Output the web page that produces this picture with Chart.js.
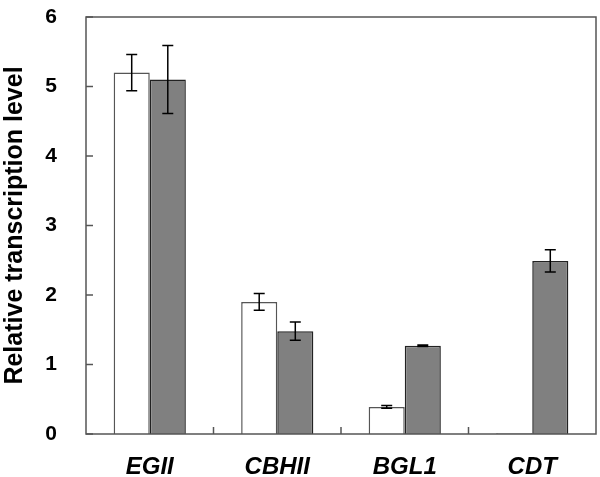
<!DOCTYPE html>
<html>
<head>
<meta charset="utf-8">
<script src="https://cdn.jsdelivr.net/npm/chart.js@4.4.0/dist/chart.umd.min.js"></script>
<style>
  html, body { margin: 0; padding: 0; background: #fff; }
  #wrap { width: 600px; height: 477px; }
</style>
</head>
<body>
<div id="wrap"><canvas id="barChart"></canvas></div>
<script>
// data
var genes = ["EGII", "CBHII", "BGL1", "CDT"];
var whiteVals = [5.2, 1.9, 0.39, 0.01];
var whiteErr  = [0.26, 0.12, 0.02, 0];
var grayVals  = [5.1, 1.48, 1.27, 2.49];
var grayErr   = [0.49, 0.13, 0.01, 0.16];
var yTicks = [0, 1, 2, 3, 4, 5, 6];

// error bars + frame + inward tick marks
var decorPlugin = {
  id: 'decor',
  afterDatasetsDraw: function(chart) {
    var ctx = chart.ctx, y = chart.scales.y, x = chart.scales.x, a = chart.chartArea;
    ctx.save();
    ctx.strokeStyle = '#000';
    ctx.lineWidth = 1.5;
    chart.data.datasets.forEach(function(ds, i) {
      var meta = chart.getDatasetMeta(i);
      meta.data.forEach(function(bar, j) {
        var e = ds.errors[j];
        if (!e) return;
        var top = y.getPixelForValue(ds.data[j] + e);
        var bot = y.getPixelForValue(ds.data[j] - e);
        ctx.beginPath();
        ctx.moveTo(bar.x, top); ctx.lineTo(bar.x, bot);
        ctx.moveTo(bar.x - 5.5, top); ctx.lineTo(bar.x + 5.5, top);
        ctx.moveTo(bar.x - 5.5, bot); ctx.lineTo(bar.x + 5.5, bot);
        ctx.stroke();
      });
    });
    // frame
    ctx.strokeStyle = '#555';
    ctx.lineWidth = 1.5;
    ctx.strokeRect(a.left, a.top, a.right - a.left, a.bottom - a.top);
    // y ticks pointing in
    yTicks.forEach(function(v) {
      var py = y.getPixelForValue(v);
      ctx.beginPath(); ctx.moveTo(a.left, py); ctx.lineTo(a.left + 7, py); ctx.stroke();
    });
    // category boundary ticks pointing up
    for (var k = 1; k < genes.length; k++) {
      var px = (x.getPixelForValue(k - 1) + x.getPixelForValue(k)) / 2;
      ctx.beginPath(); ctx.moveTo(px, a.bottom); ctx.lineTo(px, a.bottom - 7); ctx.stroke();
    }
    ctx.restore();
  }
};

var ctxB = document.getElementById("barChart").getContext('2d');
var myBarChart = new Chart(ctxB, {
  type: 'bar',
  data: {
    labels: genes,
    datasets: [
      {
        data: whiteVals,
        errors: whiteErr,
        backgroundColor: '#ffffff',
        borderColor: '#555555',
        borderWidth: 1.5,
        categoryPercentage: 0.566,
        barPercentage: 1
      },
      {
        data: grayVals,
        errors: grayErr,
        backgroundColor: '#808080',
        borderColor: '#222222',
        borderWidth: 1.5,
        categoryPercentage: 0.566,
        barPercentage: 1
      }
    ]
  },
  options: {
    responsive: true,
    maintainAspectRatio: false,
    animation: false,
    layout: { padding: { top: 17, right: 4, bottom: 0, left: 0 } },
    plugins: { legend: { display: false }, tooltip: { enabled: false } },
    scales: {
      x: {
        grid: { display: false },
        border: { display: false },
        afterFit: function(s) { s.height = 43; s.paddingLeft = 0; s.paddingRight = 0; },
        ticks: {
          padding: 11,
          color: '#000',
          font: { family: 'Liberation Sans, Arial', size: 24, weight: 'bold', style: 'italic' }
        }
      },
      y: {
        min: 0,
        max: 6,
        grid: { display: false },
        border: { display: false },
        afterFit: function(s) { s.width = 86; s.paddingTop = 0; s.paddingBottom = 0; },
        ticks: {
          stepSize: 1,
          padding: 21,
          color: '#000',
          font: { family: 'Liberation Sans, Arial', size: 21, weight: 'bold' }
        },
        title: {
          display: true,
          text: 'Relative transcription level',
          color: '#000',
          padding: { top: 0, bottom: 0 },
          font: { family: 'Liberation Sans, Arial', size: 25, weight: 'bold' }
        }
      }
    }
  },
  plugins: [decorPlugin]
});
</script>
</body>
</html>
